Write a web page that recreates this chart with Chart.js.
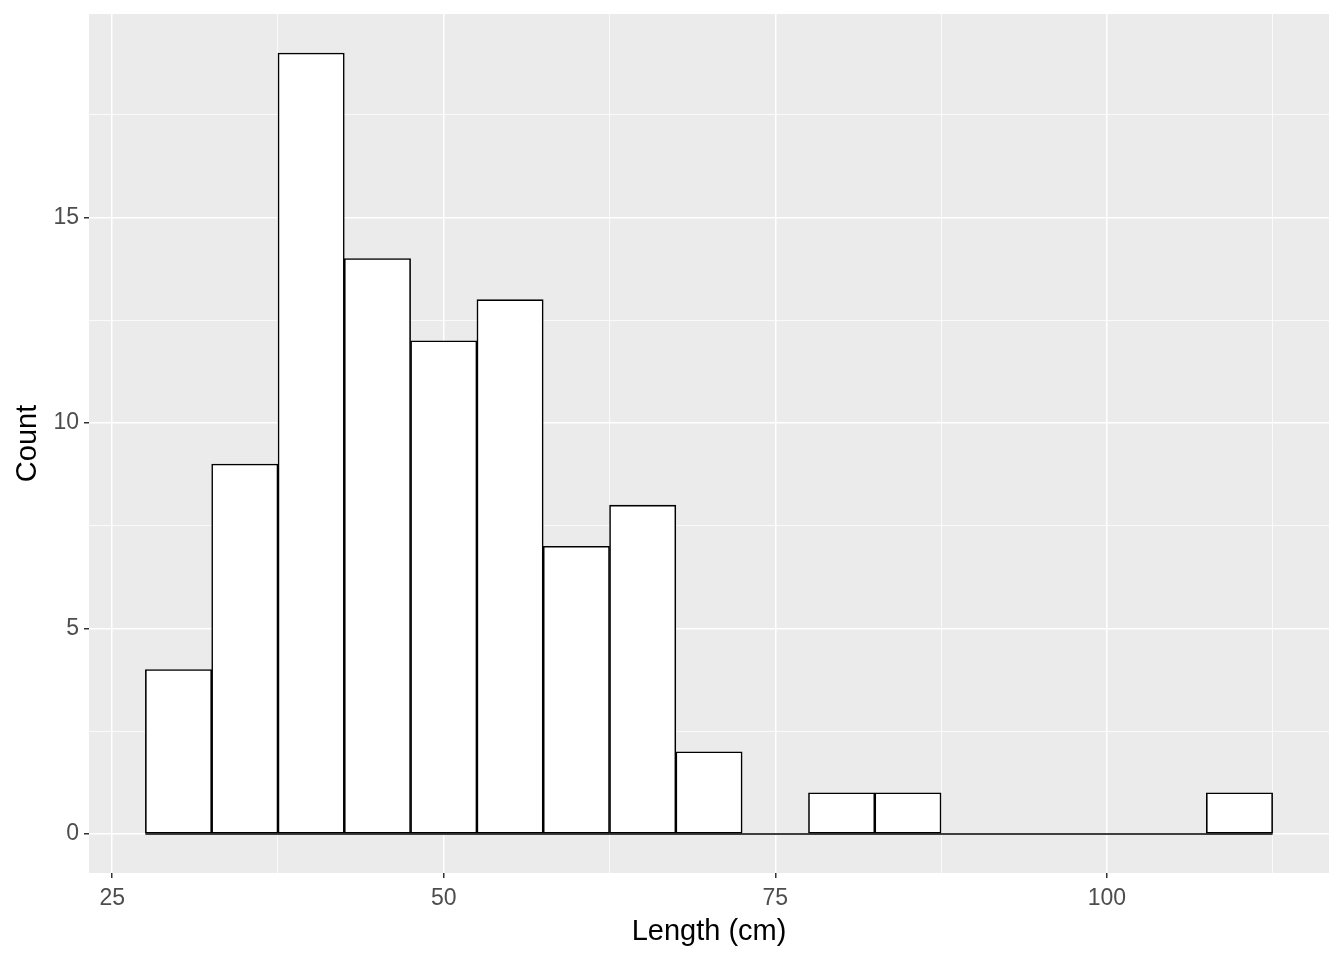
<!DOCTYPE html>
<html lang="en">
<head>
    <meta charset="UTF-8">
    <title>Length histogram</title>
    <script src="https://cdn.jsdelivr.net/npm/chart.js"></script>
    <style>
        body { margin: 0; padding: 0; background: #fff; }
        #wrap { width: 1344px; height: 960px; }
    </style>
</head>
<body>
    <div id="wrap"><canvas id="histChart"></canvas></div>
    <script>
        // bin centres (width 5) and counts
        const binCentres = [30, 35, 40, 45, 50, 55, 60, 65, 70, 75, 80, 85, 90, 95, 100, 105, 110];
        const binCounts = [4, 9, 19, 14, 12, 13, 7, 8, 2, 0, 1, 1, 0, 0, 0, 0, 1];
        const binWidth = 5;
        const xTicks = [25, 37.5, 50, 62.5, 75, 87.5, 100, 112.5];
        const yTicks = [0, 2.5, 5, 7.5, 10, 12.5, 15, 17.5];
        const xLabelled = [25, 50, 75, 100];
        const yLabelled = [0, 5, 10, 15];

        const xMin = binCentres[0] - binWidth / 2;
        const xMax = binCentres[binCentres.length - 1] + binWidth / 2;
        const xPad = (xMax - xMin) * 0.05;
        const yTop = Math.max(...binCounts);

        const isMajor = (c, list) => !!(c && c.tick && list.includes(c.tick.value));

        // grey panel behind the plot
        const panelBg = {
            id: 'panelBg',
            beforeDraw(chart) {
                const { ctx, chartArea: a } = chart;
                ctx.save();
                ctx.fillStyle = '#EBEBEB';
                ctx.fillRect(a.left, a.top, a.right - a.left, a.bottom - a.top);
                ctx.restore();
            }
        };

        // zero-height bins still get an outline in ggplot
        const baseLine = {
            id: 'baseLine',
            afterDatasetsDraw(chart) {
                const { ctx, scales } = chart;
                const y = scales.y.getPixelForValue(0);
                ctx.save();
                ctx.strokeStyle = '#000';
                ctx.lineWidth = 1.5;
                ctx.beginPath();
                ctx.moveTo(scales.x.getPixelForValue(xMin), y);
                ctx.lineTo(scales.x.getPixelForValue(xMax), y);
                ctx.stroke();
                ctx.restore();
            }
        };

        const tickFont = { family: 'Liberation Sans, Arial, sans-serif', size: 23, lineHeight: 1 };
        const titleFont = { family: 'Liberation Sans, Arial, sans-serif', size: 29, lineHeight: 1 };

        new Chart(document.getElementById('histChart'), {
            type: 'bar',
            data: {
                datasets: [{
                    data: binCentres.map((c, i) => ({ x: c, y: binCounts[i] })),
                    backgroundColor: '#FFFFFF',
                    borderColor: '#000000',
                    borderWidth: 1.6,
                    borderSkipped: false,
                    barPercentage: 1,
                    categoryPercentage: 1
                }]
            },
            options: {
                responsive: true,
                maintainAspectRatio: false,
                animation: false,
                layout: { padding: { top: 14, right: 15, left: 0, bottom: 0 } },
                plugins: { legend: { display: false }, tooltip: { enabled: false } },
                scales: {
                    x: {
                        type: 'linear',
                        offset: false,
                        min: xMin - xPad,
                        max: xMax + xPad,
                        afterBuildTicks: s => { s.ticks = xTicks.map(v => ({ value: v })); },
                        afterFit: s => { s.height = 87; s.paddingLeft = 0; s.paddingRight = 0; },
                        border: { display: false },
                        grid: {
                            offset: false,
                            color: '#FFFFFF',
                            lineWidth: c => isMajor(c, xLabelled) ? 1.5 : 0.75,
                            tickColor: c => isMajor(c, xLabelled) ? '#333333' : 'rgba(0,0,0,0)',
                            tickLength: 5,
                            tickWidth: 1.5
                        },
                        ticks: {
                            autoSkip: false,
                            maxRotation: 0,
                            color: '#4D4D4D',
                            font: tickFont,
                            padding: 9,
                            callback: v => xLabelled.includes(v) ? String(v) : ''
                        },
                        title: {
                            display: true,
                            text: 'Length (cm)',
                            color: '#000',
                            font: titleFont,
                            padding: { top: 0, bottom: 14 }
                        }
                    },
                    y: {
                        type: 'linear',
                        min: -yTop * 0.05,
                        max: yTop * 1.05,
                        afterBuildTicks: s => { s.ticks = yTicks.map(v => ({ value: v })); },
                        afterFit: s => { s.width = 89; s.paddingTop = 0; s.paddingBottom = 0; },
                        border: { display: false },
                        grid: {
                            color: '#FFFFFF',
                            lineWidth: c => isMajor(c, yLabelled) ? 1.5 : 0.75,
                            tickColor: c => isMajor(c, yLabelled) ? '#333333' : 'rgba(0,0,0,0)',
                            tickLength: 5,
                            tickWidth: 1.5
                        },
                        ticks: {
                            color: '#4D4D4D',
                            font: tickFont,
                            padding: 5,
                            callback: v => yLabelled.includes(v) ? String(v) : ''
                        },
                        title: {
                            display: true,
                            text: 'Count',
                            color: '#000',
                            font: titleFont,
                            padding: { top: 13, bottom: 0 }
                        }
                    }
                }
            },
            plugins: [panelBg, baseLine]
        });
    </script>
</body>
</html>
